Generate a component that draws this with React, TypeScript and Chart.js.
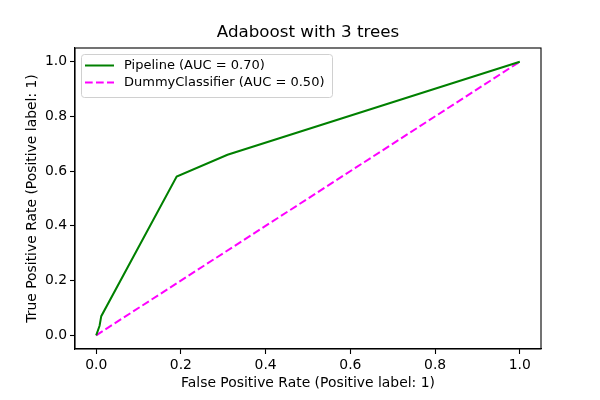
import React, { useEffect, useRef } from "react";
import { Chart, registerables } from "chart.js";

Chart.register(...registerables);

const titleText = "Adaboost with 3 trees";
const xLabel = "False Positive Rate (Positive label: 1)";
const yLabel = "True Positive Rate (Positive label: 1)";
const pipelineLabel = "Pipeline (AUC = 0.70)";
const dummyLabel = "DummyClassifier (AUC = 0.50)";
const pipelineFpr = [0, 0.008, 0.012, 0.19, 0.31, 1.0];
const pipelineTpr = [0, 0.035, 0.07, 0.58, 0.66, 1.0];
const dummyFpr = [0, 1];
const dummyTpr = [0, 1];
const tickValues = [0, 0.2, 0.4, 0.6, 0.8, 1.0];

const FONT = "'DejaVu Sans', sans-serif";

const overlayPlugin = {
  id: "overlay",
  afterDraw(chart: any) {
    const ctx = chart.ctx as CanvasRenderingContext2D;
    const a = chart.chartArea;
    ctx.save();
    // frame
    ctx.strokeStyle = "#000";
    ctx.lineWidth = 1.1;
    ctx.strokeRect(a.left, a.top, a.right - a.left, a.bottom - a.top);
    // title
    ctx.fillStyle = "#000";
    ctx.font = `16.7px ${FONT}`;
    ctx.textAlign = "center";
    ctx.textBaseline = "middle";
    ctx.fillText(titleText, (a.left + a.right) / 2, 33);
    // axis labels
    ctx.font = `13.9px ${FONT}`;
    ctx.fillText(xLabel, (a.left + a.right) / 2, 383);
    ctx.save();
    ctx.translate(32, (a.top + a.bottom) / 2);
    ctx.rotate(-Math.PI / 2);
    ctx.fillText(yLabel, 0, 0);
    ctx.restore();
    // legend
    const bx = a.left + 6.5, by = a.top + 6.5, bw = 251, bh = 43;
    ctx.fillStyle = "rgba(255,255,255,0.8)";
    ctx.strokeStyle = "#d0d0d0";
    ctx.lineWidth = 1;
    ctx.beginPath();
    const r = 3;
    ctx.moveTo(bx + r, by);
    ctx.arcTo(bx + bw, by, bx + bw, by + bh, r);
    ctx.arcTo(bx + bw, by + bh, bx, by + bh, r);
    ctx.arcTo(bx, by + bh, bx, by, r);
    ctx.arcTo(bx, by, bx + bw, by, r);
    ctx.closePath();
    ctx.fill();
    ctx.stroke();
    const ds = chart.data.datasets;
    const rows = [by + 11, by + 28];
    ds.forEach((d: any, i: number) => {
      const y = rows[i];
      ctx.strokeStyle = d.borderColor;
      ctx.lineWidth = 2;
      ctx.setLineDash(d.borderDash || []);
      ctx.beginPath();
      ctx.moveTo(bx + 3.5, y);
      ctx.lineTo(bx + 32.5, y);
      ctx.stroke();
      ctx.setLineDash([]);
      ctx.fillStyle = "#000";
      ctx.font = `13px ${FONT}`;
      ctx.textAlign = "left";
      ctx.textBaseline = "middle";
      ctx.fillText(d.label, bx + 42.5, y);
    });
    ctx.restore();
  },
};

export default function App() {
  const ref = useRef<HTMLCanvasElement | null>(null);
  useEffect(() => {
    document.body.style.margin = "0";
    const canvas = ref.current!;
    const axisCommon = {
      type: "linear" as const,
      min: -0.05,
      max: 1.05,
      afterBuildTicks: (s: any) => {
        s.ticks = tickValues.map((v) => ({ value: v }));
      },
      ticks: {
        color: "#000",
        font: { family: FONT, size: 13.9 },
        padding: 3,
        maxRotation: 0,
        autoSkip: false,
        callback: (v: any) => Number(v).toFixed(1),
      },
      grid: {
        display: true,
        drawOnChartArea: false,
        drawTicks: true,
        tickLength: 5,
        tickWidth: 1.1,
        tickColor: "#000",
      },
      border: { display: true, color: "#000", width: 1.1 },
    };
    const chart = new Chart(canvas, {
      type: "scatter",
      data: {
        datasets: [
          {
            label: pipelineLabel,
            data: pipelineFpr.map((x, i) => ({ x, y: pipelineTpr[i] })),
            borderColor: "#008000",
            backgroundColor: "#008000",
            borderWidth: 2,
            showLine: true,
            pointRadius: 0,
            tension: 0,
          },
          {
            label: dummyLabel,
            data: dummyFpr.map((x, i) => ({ x, y: dummyTpr[i] })),
            borderColor: "#ff00ff",
            backgroundColor: "#ff00ff",
            borderWidth: 2,
            borderDash: [7.7, 3.3],
            showLine: true,
            pointRadius: 0,
            tension: 0,
          },
        ],
      },
      options: {
        responsive: false,
        animation: false,
        layout: { padding: { top: 48, right: 59, left: 0, bottom: 0 } },
        plugins: {
          legend: { display: false },
          title: { display: false },
          tooltip: { enabled: false },
        },
        scales: {
          x: {
            ...axisCommon,
            afterFit: (s: any) => {
              s.height = 51;
            },
          },
          y: {
            ...axisCommon,
            afterFit: (s: any) => {
              s.width = 75;
            },
          },
        },
      },
      plugins: [overlayPlugin],
    } as any);
    return () => chart.destroy();
  }, []);
  return (
    <div style={{ width: 600, height: 400, background: "#fff" }}>
      <canvas ref={ref} width={600} height={400} style={{ display: "block" }} />
    </div>
  );
}
